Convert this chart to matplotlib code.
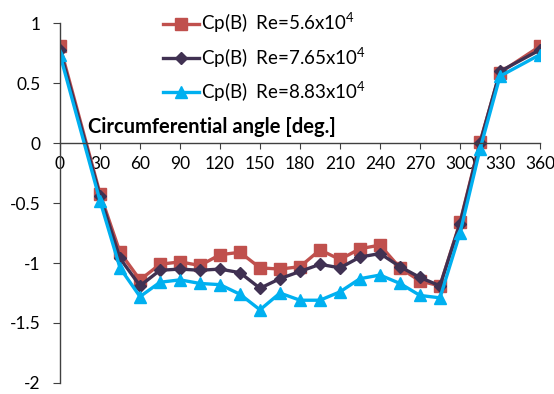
import matplotlib
matplotlib.use('Agg')
from matplotlib import pyplot as plt

plt.rcParams['font.family'] = ['Lato', 'DejaVu Sans']
plt.rcParams['mathtext.fontset'] = 'custom'
plt.rcParams['mathtext.rm'] = 'Lato'
plt.rcParams['axes.unicode_minus'] = False

# circumferential angle of the pressure taps [deg.]
angle = [0, 30, 45, 60, 75, 90, 105, 120, 135, 150, 165, 180, 195,
         210, 225, 240, 255, 270, 285, 300, 315, 330, 360]

# pressure coefficient at three Reynolds numbers
cp_56 = [0.81, -0.42, -0.91, -1.14, -1.01, -0.99, -1.02, -0.93, -0.91, -1.04, -1.05, -1.03, -0.89,
         -0.97, -0.88, -0.85, -1.04, -1.15, -1.19, -0.66, 0.01, 0.59, 0.81]
cp_765 = [0.78, -0.44, -0.96, -1.19, -1.06, -1.05, -1.06, -1.05, -1.08, -1.21, -1.13, -1.07, -1.01,
          -1.04, -0.95, -0.92, -1.03, -1.12, -1.19, -0.67, 0.0, 0.60, 0.78]
cp_883 = [0.74, -0.48, -1.04, -1.28, -1.16, -1.14, -1.17, -1.18, -1.26, -1.39, -1.25, -1.31, -1.31,
          -1.24, -1.13, -1.10, -1.17, -1.27, -1.29, -0.75, -0.05, 0.56, 0.74]

labels = ['Cp(B)  Re=5.6x10$^4$', 'Cp(B)  Re=7.65x10$^4$', 'Cp(B)  Re=8.83x10$^4$']

fig = plt.figure(figsize=(5.54, 3.94), dpi=100)
ax = fig.add_axes([0.1083, 0.0282, 0.8664, 0.9122])

ax.plot(angle, cp_56, color='#C0504D', lw=2.4, marker='s', ms=8.5, label=labels[0])
ax.plot(angle, cp_765, color='#403152', lw=2.4, marker='D', ms=6.5, label=labels[1])
ax.plot(angle, cp_883, color='#00B0F0', lw=2.4, marker='^', ms=9, label=labels[2])

ax.set_xlim(0, 360)
ax.set_ylim(-2, 1)
ax.set_xticks(range(0, 361, 30))
ax.set_yticks([-2, -1.5, -1, -0.5, 0, 0.5, 1])
ax.set_yticklabels(['-2', '-1.5', '-1', '-0.5', '0', '0.5', '1'])

ax.spines['top'].set_visible(False)
ax.spines['right'].set_visible(False)
ax.spines['bottom'].set_position(('data', 0))
for s in ['left', 'bottom']:
    ax.spines[s].set_color('#404040')
    ax.spines[s].set_linewidth(1.0)
ax.tick_params(axis='x', direction='out', length=4, color='#404040', labelsize=12.5, pad=5)
ax.tick_params(axis='y', direction='out', length=5, color='#404040', labelsize=12.5, pad=9)

ax.text(21, 0.09, 'Circumferential angle [deg.]', fontsize=14.5, fontweight='bold')

ax.legend(loc='upper left', bbox_to_anchor=(0.2, 1.057), frameon=False, fontsize=13.5,
          handlelength=1.9, handletextpad=0.1, labelspacing=0.5, borderaxespad=0)

fig.savefig('out.png', dpi=100)
